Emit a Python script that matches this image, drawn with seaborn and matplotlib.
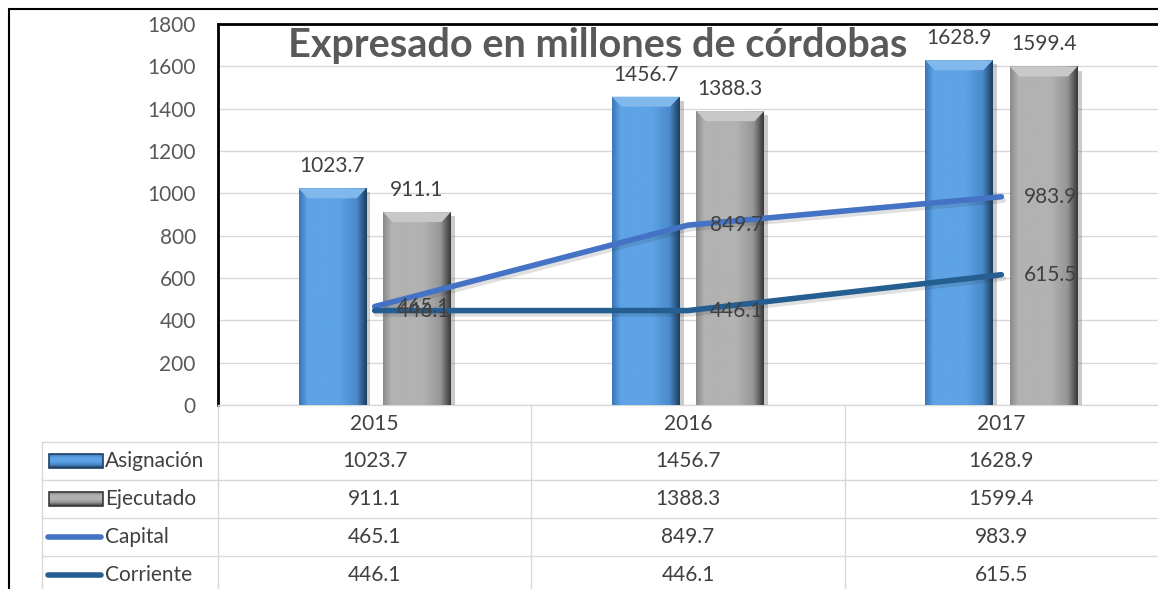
import numpy as np
import pandas as pd
import matplotlib
matplotlib.use("Agg")
import matplotlib.pyplot as plt
import matplotlib.patheffects as pe
from matplotlib.colors import LinearSegmentedColormap
from matplotlib.patches import Polygon, Rectangle
from matplotlib.lines import Line2D
import seaborn as sns

# ---------------- data ----------------
years = ["2015", "2016", "2017"]
asignacion = [1023.7, 1456.7, 1628.9]
ejecutado = [911.1, 1388.3, 1599.4]
capital = [465.1, 849.7, 983.9]
corriente = [446.1, 446.1, 615.5]
bar_series = ["Asignación", "Ejecutado"]
line_series = ["Capital", "Corriente"]
title = "Expresado en millones de córdobas"
yticks = [0, 200, 400, 600, 800, 1000, 1200, 1400, 1600, 1800]

# ---------------- style ----------------
sns.set_theme(style="white")
plt.rcParams["font.family"] = ["Lato", "DejaVu Sans"]
TXT = "#404040"
FS = 15
bar_colors = {"Asignación": "#5B9FE3", "Ejecutado": "#ABABAB"}
grad_stops = {
    "Asignación": ["#3A78B8", "#5DA3E6", "#5DA3E6", "#4A8ACB", "#1E3F62"],
    "Ejecutado": ["#8C8C8C", "#B2B2B2", "#B2B2B2", "#969696", "#3A3A3A"],
}
bevel_col = {"Asignación": "#80B8EC", "Ejecutado": "#C8C8C8"}
line_colors = {"Capital": "#4472C4", "Corriente": "#255E91"}

W, H = 1158, 589
fig = plt.figure(figsize=(W / 100, H / 100), dpi=100)
L, R, T, B = 218, 1158, 24, 405
ax = fig.add_axes([L / W, 1 - B / H, (R - L) / W, (B - T) / H])

df_bars = pd.DataFrame({
    "year": years * 2,
    "value": asignacion + ejecutado,
    "serie": [bar_series[0]] * 3 + [bar_series[1]] * 3,
})
sns.barplot(data=df_bars, x="year", y="value", hue="serie", order=years,
            hue_order=bar_series, palette=bar_colors, width=0.54, gap=0.2,
            legend=False, ax=ax, edgecolor="none", zorder=3)

# bevel / gradient decoration on the bars seaborn drew
ymax = 1800
px_per_unit = (B - T) / ymax
bars = [p for p in ax.patches if isinstance(p, Rectangle) and p.get_height() > 0]
for i, p in enumerate(bars):
    s = bar_series[i // 3]
    x0, w, h = p.get_x(), p.get_width(), p.get_height()
    p.set_path_effects([pe.SimplePatchShadow(offset=(3, -3), alpha=0.3, shadow_rgbFace="#555555"), pe.Normal()])
    cmap = LinearSegmentedColormap.from_list("g", list(zip([0, 0.12, 0.6, 0.85, 1.0], grad_stops[s])))
    grad = np.linspace(0, 1, 100).reshape(1, -1)
    im = ax.imshow(grad, cmap=cmap, extent=(x0, x0 + w, 0, h), aspect="auto", zorder=3.2)
    im.set_clip_path(p)
    dx = w * 0.14
    dy = 10 / px_per_unit
    ax.add_patch(Polygon([(x0, h), (x0 + w, h), (x0 + w - dx, h - dy), (x0 + dx, h - dy)],
                         closed=True, facecolor=bevel_col[s], edgecolor="none", zorder=3.3))
    ax.text(x0 + w / 2, h + 12 / px_per_unit, f"{p.get_height():.1f}", ha="center", va="bottom",
            fontsize=FS, color=TXT, zorder=6)

# lines
for s, vals in zip(line_series, [capital, corriente]):
    sns.pointplot(x=years, y=vals, order=years, color=line_colors[s], markers="",
                  linewidth=4, errorbar=None, ax=ax, zorder=4)
for ln in ax.lines:
    ln.set_solid_capstyle("round")
    ln.set_solid_joinstyle("round")
    ln.set_path_effects([pe.SimpleLineShadow(offset=(1.5, -2.5), alpha=0.15, shadow_color="#333333"), pe.Normal()])
for vals in [capital, corriente]:
    for i, v in enumerate(vals):
        ax.annotate(f"{v:.1f}", (i, v), xytext=(16, 0), textcoords="offset points",
                    ha="left", va="center", fontsize=FS, color=TXT, zorder=7)

ax.set_xlim(-0.5, 2.5)
ax.set_ylim(0, ymax)
ax.set_yticks(yticks)
ax.set_yticklabels([str(t) for t in yticks])
ax.tick_params(axis="y", length=0, pad=16, labelsize=FS, labelcolor="#595959")
ax.set_xticks([])
ax.set_xlabel("")
ax.set_ylabel("")
ax.grid(axis="y", color="#D9D9D9", lw=1, zorder=0)
ax.set_axisbelow(True)
for side in ["left", "top"]:
    ax.spines[side].set_color("black")
    ax.spines[side].set_linewidth(2)
ax.spines["right"].set_visible(False)
ax.spines["bottom"].set_color("#D9D9D9")
ax.spines["bottom"].set_linewidth(1)

fig.text(598 / W, 1 - 45 / H, title, ha="center", va="center", fontsize=28.5,
         fontweight="bold", color="#595959")

# ---------------- data table ----------------
tax = fig.add_axes([L / W, 0, (R - L) / W, (H - B) / H])
tax.set_xlim(-0.5, 2.5)
tax.set_ylim(H - B, 0)
tax.axis("off")
cat_w = (R - L) / 3
def xd(px):
    return (px - L) / cat_w - 0.5
gcol = "#D9D9D9"
row_edges = [0, 37, 75, 113, 151]
x_left = xd(42)
for i in range(1, 3):
    tax.add_line(Line2D([i - 0.5, i - 0.5], [0, H - B], color=gcol, lw=1, clip_on=False))
tax.add_line(Line2D([-0.5, -0.5], [0, H - B], color=gcol, lw=1, clip_on=False))
tax.add_line(Line2D([x_left, x_left], [row_edges[1], H - B], color=gcol, lw=1, clip_on=False))
for y in row_edges[1:]:
    tax.add_line(Line2D([x_left, 2.5], [y, y], color=gcol, lw=1, clip_on=False))
for i, yv in enumerate(years):
    tax.text(i, (row_edges[0] + row_edges[1]) / 2, yv, ha="center", va="center", fontsize=FS, color=TXT)
rows = [(bar_series[0], asignacion), (bar_series[1], ejecutado),
        (line_series[0], capital), (line_series[1], corriente)]
for r, (name, vals) in enumerate(rows):
    yc = row_edges[r + 1] + 19
    for i, v in enumerate(vals):
        tax.text(i, yc, f"{v:.1f}", ha="center", va="center", fontsize=FS, color=TXT)
    tax.text(xd(105), yc, name, ha="left", va="center", fontsize=FS, color=TXT, clip_on=False)
    if name in bar_series:
        cmap = LinearSegmentedColormap.from_list("g", grad_stops[name])
        tax.imshow(np.linspace(0.3, 0.6, 50).reshape(-1, 1), cmap=cmap,
                   extent=(xd(49), xd(103), yc + 7, yc - 7), aspect="auto", clip_on=False)
        tax.add_patch(Rectangle((xd(49), yc - 7), xd(103) - xd(49), 14, fill=False,
                                edgecolor=grad_stops[name][-1], lw=1.2, clip_on=False))
    else:
        tax.add_line(Line2D([xd(48), xd(101)], [yc, yc], color=line_colors[name], lw=4,
                            solid_capstyle="round", clip_on=False))
tax.set_xlim(-0.5, 2.5)
tax.set_ylim(H - B, 0)

# outer frame (left and top visible)
fig.add_artist(Line2D([9 / W, 9 / W], [0, 1 - 9 / H], transform=fig.transFigure, color="black", lw=1.5))
fig.add_artist(Line2D([9 / W, 1], [1 - 9 / H, 1 - 9 / H], transform=fig.transFigure, color="black", lw=1.5))

fig.savefig("out.png", dpi=100, facecolor="white")
